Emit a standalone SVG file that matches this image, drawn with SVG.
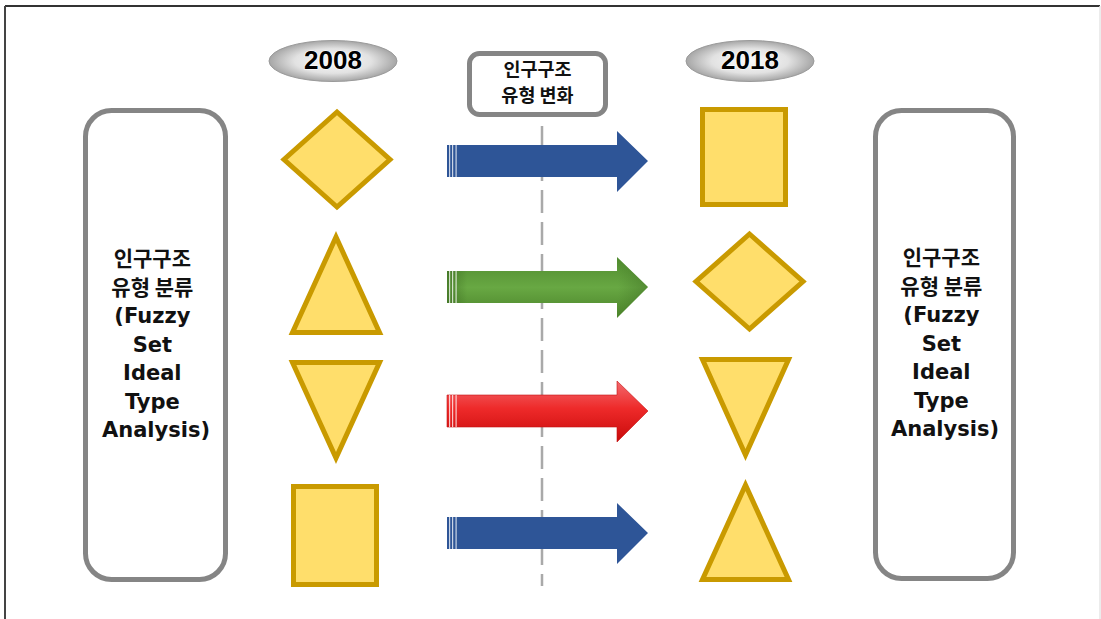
<svg xmlns="http://www.w3.org/2000/svg" width="1101" height="619" viewBox="0 0 1101 619">
  <style>
    .shape{fill:#FFDE6B;stroke:#C99A00;stroke-width:5;stroke-linejoin:miter}
    .box{fill:#fff;stroke:#858585;stroke-width:5}
    .boxtxt{font-family:"DejaVu Sans","Noto Sans CJK KR",sans-serif;font-weight:bold;font-size:21px;fill:#111;text-anchor:middle}
    .kr{font-family:"Noto Sans CJK KR",sans-serif}
    .year{font-family:"Liberation Sans",Arial,sans-serif;font-weight:bold;font-size:26px;fill:#000;text-anchor:middle;stroke:#fff;stroke-width:1.2;paint-order:stroke}
    .stripe{fill:#fff;opacity:0.75}
  </style>
  <defs>
    <radialGradient id="silver" cx="0.5" cy="0.5" r="0.5">
      <stop offset="0" stop-color="#fbfbfb"/>
      <stop offset="0.6" stop-color="#e2e2e2"/>
      <stop offset="1" stop-color="#a6a6a6"/>
    </radialGradient>
    <linearGradient id="green" x1="0" y1="0" x2="0" y2="1">
      <stop offset="0" stop-color="#4f8a2e"/>
      <stop offset="0.5" stop-color="#68a843"/>
      <stop offset="1" stop-color="#4a8229"/>
    </linearGradient>
    <linearGradient id="greenH" x1="0" y1="0" x2="1" y2="0">
      <stop offset="0" stop-color="#2f5a18" stop-opacity="0.5"/>
      <stop offset="0.1" stop-color="#2f5a18" stop-opacity="0"/>
      <stop offset="0.85" stop-color="#2f5a18" stop-opacity="0"/>
      <stop offset="1" stop-color="#2f5a18" stop-opacity="0.35"/>
    </linearGradient>
    <linearGradient id="red" x1="0" y1="0" x2="0" y2="1">
      <stop offset="0" stop-color="#f26a6e"/>
      <stop offset="0.45" stop-color="#ee2a2a"/>
      <stop offset="1" stop-color="#c80a0a"/>
    </linearGradient>
    <path id="arrow" d="M0,-16 L170,-16 L170,-30 L201,0 L170,31 L170,16 L0,16 Z"/>
  </defs>

  <!-- frame -->
  <g id="frame" fill="none">
    <line x1="5" y1="6" x2="1100" y2="6" stroke="#333" stroke-width="2"/>
    <line x1="5" y1="6" x2="5" y2="619" stroke="#444" stroke-width="2"/>
    <line x1="1100" y1="6" x2="1100" y2="619" stroke="#e6e6e6" stroke-width="1.5"/>
  </g>

  <!-- connectors: dashed timeline and arrows -->
  <g id="connectors">
    <line x1="542" y1="126" x2="542" y2="586" stroke="#a9a9a9" stroke-width="2.5" stroke-dasharray="23,9"/>
    <g id="arrow1" transform="translate(447,161)">
      <use href="#arrow" fill="#2E5597"/>
      <rect class="stripe" x="2" y="-16" width="1.2" height="32"/>
      <rect class="stripe" x="5" y="-16" width="1.2" height="32"/>
      <rect class="stripe" x="8.5" y="-16" width="1.2" height="32"/>
    </g>
    <g id="arrow2" transform="translate(447,287)">
      <use href="#arrow" fill="url(#green)"/>
      <use href="#arrow" fill="url(#greenH)"/>
      <rect class="stripe" x="2" y="-16" width="1.2" height="32" opacity="0.5"/>
      <rect class="stripe" x="5" y="-16" width="1.2" height="32" opacity="0.5"/>
      <rect class="stripe" x="8.5" y="-16" width="1.2" height="32" opacity="0.5"/>
    </g>
    <g id="arrow3" transform="translate(447,411)">
      <use href="#arrow" fill="url(#red)" stroke="#c41010" stroke-width="0.6"/>
      <rect class="stripe" x="2" y="-16" width="1.2" height="32"/>
      <rect class="stripe" x="5" y="-16" width="1.2" height="32"/>
      <rect class="stripe" x="8.5" y="-16" width="1.2" height="32"/>
    </g>
    <g id="arrow4" transform="translate(447,533)">
      <use href="#arrow" fill="#2E5597"/>
      <rect class="stripe" x="2" y="-16" width="1.2" height="32"/>
      <rect class="stripe" x="5" y="-16" width="1.2" height="32"/>
      <rect class="stripe" x="8.5" y="-16" width="1.2" height="32"/>
    </g>
  </g>

  <!-- year labels -->
  <g id="year2008">
    <ellipse cx="333" cy="61" rx="64" ry="20.5" fill="url(#silver)" stroke="#9a9a9a" stroke-width="1"/>
    <text class="year" x="333" y="69">2008</text>
  </g>
  <g id="year2018">
    <ellipse cx="750" cy="61" rx="64" ry="20.5" fill="url(#silver)" stroke="#9a9a9a" stroke-width="1"/>
    <text class="year" x="750" y="69">2018</text>
  </g>

  <!-- top label -->
  <g id="changeLabel">
    <rect class="box" x="469.5" y="53.5" width="136" height="61" rx="10"/>
    <text class="boxtxt kr" style="font-size:18.5px" x="537.5" y="75.5">인구구조</text>
    <text class="boxtxt kr" style="font-size:18.5px" x="537.5" y="101.5">유형 변화</text>
  </g>

  <!-- left classification box -->
  <g id="leftBox">
    <rect class="box" x="85.5" y="110.5" width="140" height="469" rx="26"/>
    <text class="boxtxt">
      <tspan class="kr" x="156" y="266">인구구조</tspan>
      <tspan class="kr" x="156" y="294.5">유형 분류</tspan>
      <tspan x="156" y="323">(Fuzzy</tspan>
      <tspan x="156" y="351.5">Set</tspan>
      <tspan x="156" y="380">Ideal</tspan>
      <tspan x="156" y="408.5">Type</tspan>
      <tspan x="156" y="437">Analysis)</tspan>
    </text>
  </g>

  <!-- right classification box -->
  <g id="rightBox">
    <rect class="box" x="875.5" y="110.5" width="138" height="468" rx="26"/>
    <text class="boxtxt">
      <tspan class="kr" x="945" y="265">인구구조</tspan>
      <tspan class="kr" x="945" y="293.5">유형 분류</tspan>
      <tspan x="945" y="322">(Fuzzy</tspan>
      <tspan x="945" y="350.5">Set</tspan>
      <tspan x="945" y="379">Ideal</tspan>
      <tspan x="945" y="407.5">Type</tspan>
      <tspan x="945" y="436">Analysis)</tspan>
    </text>
  </g>

  <!-- 2008 shapes -->
  <g id="s2008diamond"><polygon class="shape" points="337,112 390,159.5 337,207 284,159.5"/></g>
  <g id="s2008triUp"><polygon class="shape" points="336,237 379.5,332.5 292.5,332.5"/></g>
  <g id="s2008triDown"><polygon class="shape" points="292.5,362.5 379.5,362.5 336,458"/></g>
  <g id="s2008square"><rect class="shape" x="293.5" y="486.5" width="83" height="98"/></g>

  <!-- 2018 shapes -->
  <g id="s2018square"><rect class="shape" x="702.5" y="109.5" width="83" height="95"/></g>
  <g id="s2018diamond"><polygon class="shape" points="749.5,234 803,281.5 749.5,329 696,281.5"/></g>
  <g id="s2018triDown"><polygon class="shape" points="702.5,359.5 788.5,359.5 745.5,455"/></g>
  <g id="s2018triUp"><polygon class="shape" points="745.5,485 788.5,579.5 702.5,579.5"/></g>
</svg>
